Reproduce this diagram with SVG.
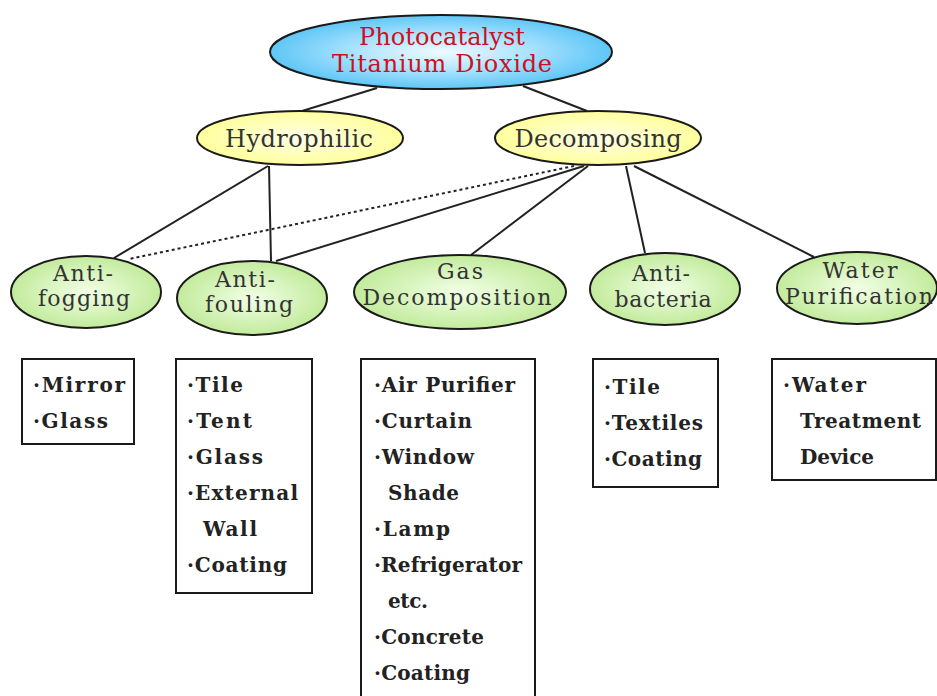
<svg xmlns="http://www.w3.org/2000/svg" width="937" height="696" viewBox="0 0 937 696">
  <defs>
    <radialGradient id="gBlue" cx="50%" cy="50%" r="50%">
      <stop offset="0%" stop-color="#f0faff"/>
      <stop offset="45%" stop-color="#b4e6ff"/>
      <stop offset="100%" stop-color="#5ec6f6"/>
    </radialGradient>
    <radialGradient id="gYellow" cx="50%" cy="50%" r="50%">
      <stop offset="0%" stop-color="#ffffe8"/>
      <stop offset="100%" stop-color="#ffff9c"/>
    </radialGradient>
    <radialGradient id="gGreen" cx="50%" cy="50%" r="50%">
      <stop offset="0%" stop-color="#f2ffe6"/>
      <stop offset="100%" stop-color="#c2eb9c"/>
    </radialGradient>
  </defs>
  <style>
    .ell { stroke: #1a1a1a; stroke-width: 2; }
    .lbl { font-family: "DejaVu Serif", "Liberation Serif", serif; font-size: 24px; fill: #333333; text-anchor: middle; }
    .lbl2 { font-family: "DejaVu Serif", "Liberation Serif", serif; font-size: 22px; fill: #333333; text-anchor: middle; }
    .title { font-family: "DejaVu Serif", "Liberation Serif", serif; font-size: 24px; fill: #cc1122; text-anchor: middle; }
    .box { fill: #ffffff; stroke: #1a1a1a; stroke-width: 2; }
    .item { font-family: "DejaVu Serif", "Liberation Serif", serif; font-size: 20px; font-weight: bold; fill: #222222; }
    .conn { stroke: #222222; stroke-width: 2; fill: none; }
    .dot { stroke-dasharray: 3 3; }
  </style>
  <rect width="937" height="696" fill="#ffffff"/>

  <g id="connectors">
    <line class="conn" x1="377" y1="88" x2="302" y2="111"/>
    <line class="conn" x1="523" y1="86" x2="587" y2="111"/>
    <line class="conn" x1="268" y1="166" x2="114" y2="258"/>
    <line class="conn" x1="269" y1="166" x2="271" y2="261"/>
    <line class="conn dot" x1="574" y1="166" x2="129" y2="259"/>
    <line class="conn" x1="584" y1="166" x2="276" y2="261"/>
    <line class="conn" x1="588" y1="166" x2="471" y2="255"/>
    <line class="conn" x1="626" y1="166" x2="645" y2="253"/>
    <line class="conn" x1="634" y1="166" x2="814" y2="257"/>
  </g>

  <g id="node-titanium-dioxide">
    <ellipse class="ell" cx="441" cy="52" rx="171" ry="37" fill="url(#gBlue)"/>
    <text class="title" x="442" y="45" textLength="166" lengthAdjust="spacing">Photocatalyst</text>
    <text class="title" x="442" y="72" textLength="220" lengthAdjust="spacing">Titanium Dioxide</text>
  </g>

  <g id="node-hydrophilic">
    <ellipse class="ell" cx="300" cy="138" rx="103" ry="27" fill="url(#gYellow)"/>
    <text class="lbl" x="299" y="147" textLength="148" lengthAdjust="spacing">Hydrophilic</text>
  </g>

  <g id="node-decomposing">
    <ellipse class="ell" cx="598" cy="138" rx="103" ry="27" fill="url(#gYellow)"/>
    <text class="lbl" x="598" y="147" textLength="167" lengthAdjust="spacing">Decomposing</text>
  </g>

  <g id="node-anti-fogging">
    <ellipse class="ell" cx="86" cy="292" rx="75" ry="36" fill="url(#gGreen)"/>
    <text class="lbl2" x="83" y="281" textLength="60" lengthAdjust="spacing">Anti-</text>
    <text class="lbl2" x="84" y="306" textLength="92" lengthAdjust="spacing">fogging</text>
  </g>

  <g id="node-anti-fouling">
    <ellipse class="ell" cx="252" cy="298" rx="75" ry="37" fill="url(#gGreen)"/>
    <text class="lbl2" x="245" y="287" textLength="60" lengthAdjust="spacing">Anti-</text>
    <text class="lbl2" x="249" y="312" textLength="88" lengthAdjust="spacing">fouling</text>
  </g>

  <g id="node-gas-decomposition">
    <ellipse class="ell" cx="460" cy="292" rx="106" ry="37" fill="url(#gGreen)"/>
    <text class="lbl2" x="460" y="279" textLength="46" lengthAdjust="spacing">Gas</text>
    <text class="lbl2" x="457" y="305" textLength="189" lengthAdjust="spacing">Decomposition</text>
  </g>

  <g id="node-anti-bacteria">
    <ellipse class="ell" cx="665" cy="289" rx="75" ry="36" fill="url(#gGreen)"/>
    <text class="lbl2" x="661" y="281" textLength="58" lengthAdjust="spacing">Anti-</text>
    <text class="lbl2" x="663" y="307" textLength="97" lengthAdjust="spacing">bacteria</text>
  </g>

  <g id="node-water-purification">
    <ellipse class="ell" cx="857" cy="288" rx="80" ry="36" fill="url(#gGreen)"/>
    <text class="lbl2" x="860" y="278" textLength="75" lengthAdjust="spacing">Water</text>
    <text class="lbl2" x="859" y="304" textLength="148" lengthAdjust="spacing">Purification</text>
  </g>

  <g id="box-anti-fogging">
    <rect class="box" x="22" y="359" width="112" height="85"/>
    <text class="item" x="33" y="392" textLength="92" lengthAdjust="spacing">·Mirror</text>
    <text class="item" x="33" y="428" textLength="75" lengthAdjust="spacing">·Glass</text>
  </g>

  <g id="box-anti-fouling">
    <rect class="box" x="176" y="359" width="136" height="234"/>
    <text class="item" x="187" y="392" textLength="56" lengthAdjust="spacing">·Tile</text>
    <text class="item" x="187" y="428" textLength="65" lengthAdjust="spacing">·Tent</text>
    <text class="item" x="187" y="464" textLength="76" lengthAdjust="spacing">·Glass</text>
    <text class="item" x="187" y="500" textLength="111" lengthAdjust="spacing">·External</text>
    <text class="item" x="203" y="536" textLength="54" lengthAdjust="spacing">Wall</text>
    <text class="item" x="187" y="572" textLength="100" lengthAdjust="spacing">·Coating</text>
  </g>

  <g id="box-gas-decomposition">
    <rect class="box" x="361" y="359" width="174" height="360"/>
    <text class="item" x="374" y="392" textLength="141" lengthAdjust="spacing">·Air Purifier</text>
    <text class="item" x="374" y="428" textLength="98" lengthAdjust="spacing">·Curtain</text>
    <text class="item" x="374" y="464" textLength="100" lengthAdjust="spacing">·Window</text>
    <text class="item" x="388" y="500" textLength="71" lengthAdjust="spacing">Shade</text>
    <text class="item" x="374" y="536" textLength="76" lengthAdjust="spacing">·Lamp</text>
    <text class="item" x="374" y="572" textLength="148" lengthAdjust="spacing">·Refrigerator</text>
    <text class="item" x="388" y="608" textLength="40" lengthAdjust="spacing">etc.</text>
    <text class="item" x="374" y="644" textLength="110" lengthAdjust="spacing">·Concrete</text>
    <text class="item" x="374" y="680" textLength="96" lengthAdjust="spacing">·Coating</text>
  </g>

  <g id="box-anti-bacteria">
    <rect class="box" x="593" y="359" width="125" height="128"/>
    <text class="item" x="604" y="394" textLength="56" lengthAdjust="spacing">·Tile</text>
    <text class="item" x="604" y="430" textLength="99" lengthAdjust="spacing">·Textiles</text>
    <text class="item" x="604" y="466" textLength="98" lengthAdjust="spacing">·Coating</text>
  </g>

  <g id="box-water-purification">
    <rect class="box" x="772" y="359" width="164" height="121"/>
    <text class="item" x="783" y="392" textLength="83" lengthAdjust="spacing">·Water</text>
    <text class="item" x="800" y="428" textLength="121" lengthAdjust="spacing">Treatment</text>
    <text class="item" x="800" y="464" textLength="74" lengthAdjust="spacing">Device</text>
  </g>
</svg>
